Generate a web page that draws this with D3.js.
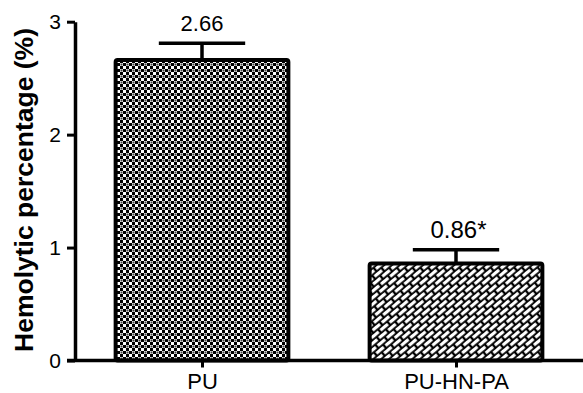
<!DOCTYPE html>
<html>
<head>
<meta charset="utf-8">
<script src="https://cdn.jsdelivr.net/npm/d3@7"></script>
<style>
  html, body { margin: 0; padding: 0; background: #fff; }
  svg { display: block; font-family: "Liberation Sans", Arial, sans-serif; }
</style>
</head>
<body>
<svg id="chart" width="583" height="393"></svg>
<script>
const categories = ["PU", "PU-HN-PA"];
const values = [2.66, 0.86];
const errors = [0.15, 0.12];
const valueLabels = ["2.66", "0.86*"];
const yTicks = [0, 1, 2, 3];
const yTitle = "Hemolytic percentage (%)";

const svg = d3.select("#chart");
const mLeft = 75, mTop = 21.7, mBottom = 360.5, mRight = 583;

const x = d3.scalePoint().domain(categories).range([mLeft, mRight]).padding(0.5);
const step = x.step();
const barW = step * 0.68;
const y = d3.scaleLinear().domain([0, 3]).range([mBottom, mTop]);

const defs = svg.append("defs");
// checkerboard pattern
const p1 = defs.append("pattern").attr("id", "checker")
  .attr("patternUnits", "userSpaceOnUse").attr("width", 6).attr("height", 6);
p1.append("rect").attr("width", 6).attr("height", 6).attr("fill", "#fff");
p1.append("rect").attr("x", 0).attr("y", 0).attr("width", 3).attr("height", 3).attr("fill", "#000");
p1.append("rect").attr("x", 3).attr("y", 3).attr("width", 3).attr("height", 3).attr("fill", "#000");
p1.append("rect").attr("x", 0.5).attr("y", 3.5).attr("width", 2).attr("height", 2).attr("fill", "#444");
// diagonal brick pattern
const p2 = defs.append("pattern").attr("id", "brick")
  .attr("patternUnits", "userSpaceOnUse").attr("width", 12).attr("height", 10)
  .attr("patternTransform", "rotate(-40)");
p2.append("rect").attr("width", 12).attr("height", 10).attr("fill", "#000");
p2.append("rect").attr("x", 1.2).attr("y", 1).attr("width", 9.6).attr("height", 3.2).attr("fill", "#fff");
p2.append("rect").attr("x", 7.2).attr("y", 6).attr("width", 9.6).attr("height", 3.2).attr("fill", "#fff");
p2.append("rect").attr("x", -4.8).attr("y", 6).attr("width", 9.6).attr("height", 3.2).attr("fill", "#fff");

const fills = ["url(#checker)", "url(#brick)"];

// error bars (behind bars)
const eb = svg.append("g");
categories.forEach((c, i) => {
  const cx = x(c);
  eb.append("line").attr("x1", cx).attr("x2", cx)
    .attr("y1", y(values[i])).attr("y2", y(values[i] + errors[i]))
    .attr("stroke", "#000").attr("stroke-width", 3.5);
  eb.append("line").attr("x1", cx - barW / 4).attr("x2", cx + barW / 4)
    .attr("y1", y(values[i] + errors[i])).attr("y2", y(values[i] + errors[i]))
    .attr("stroke", "#000").attr("stroke-width", 3.5);
});

// bars
svg.append("g").selectAll("rect").data(categories).join("rect")
  .attr("x", d => x(d) - barW / 2)
  .attr("y", (d, i) => y(values[i]))
  .attr("width", barW)
  .attr("height", (d, i) => y(0) - y(values[i]))
  .attr("rx", 2)
  .attr("fill", (d, i) => fills[i])
  .attr("stroke", "#000").attr("stroke-width", 4);

// value labels
svg.append("g").selectAll("text").data(categories).join("text")
  .attr("x", (d, i) => x(d) + (i === 1 ? 2.5 : 0))
  .attr("y", (d, i) => y(values[i] + errors[i]) - 12)
  .attr("text-anchor", "middle")
  .attr("font-size", (d, i) => i === 1 ? 24 : 22)
  .text((d, i) => valueLabels[i]);

// y axis
const yAxis = svg.append("g").attr("transform", `translate(${mLeft},0)`)
  .call(d3.axisLeft(y).tickValues(yTicks).tickFormat(d3.format("d")).tickSize(8).tickPadding(6).tickSizeOuter(0));
yAxis.select(".domain").attr("stroke-width", 3.5);
yAxis.selectAll(".tick line").attr("stroke-width", 3);
yAxis.selectAll(".tick text").attr("font-size", 21).attr("font-family", "Liberation Sans, Arial, sans-serif").attr("fill", "#000");

// x axis
const xAxis = svg.append("g").attr("transform", `translate(0,${mBottom})`)
  .call(d3.axisBottom(x).tickSize(7).tickPadding(6).tickSizeOuter(0));
xAxis.select(".domain").attr("d", `M${mLeft - 8},0H${mRight}`).attr("stroke-width", 3.5);
xAxis.selectAll(".tick line").attr("stroke-width", 3);
xAxis.selectAll(".tick text").attr("font-size", 22).attr("font-family", "Liberation Sans, Arial, sans-serif").attr("fill", "#000");

// y title
svg.append("text")
  .attr("transform", `translate(33,190) rotate(-90)`)
  .attr("text-anchor", "middle")
  .attr("font-size", 26)
  .attr("font-weight", "bold")
  .attr("textLength", 324)
  .attr("lengthAdjust", "spacingAndGlyphs")
  .text(yTitle);
</script>
</body>
</html>
